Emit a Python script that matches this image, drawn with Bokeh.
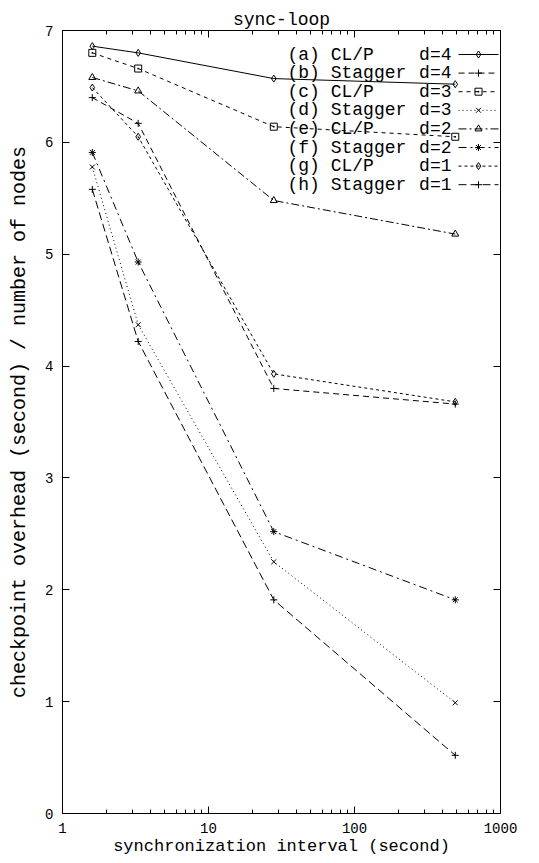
from bokeh.plotting import figure
from bokeh.models import Range1d, FixedTicker, LogAxis, LinearAxis
from bokeh.core.properties import value
from bokeh.embed import file_html
from bokeh.resources import INLINE

# ---- data ----
intervals = [1.6, 3.3, 28, 490]
clp_d4 = [6.86, 6.80, 6.57, 6.52]
stagger_d4 = [6.40, 6.17, 3.80, 3.66]
clp_d3 = [6.80, 6.66, 6.14, 6.05]
stagger_d3 = [5.78, 4.37, 2.25, 0.99]
clp_d2 = [6.58, 6.46, 5.48, 5.18]
stagger_d2 = [5.91, 4.93, 2.52, 1.91]
clp_d1 = [6.49, 6.05, 3.93, 3.68]
stagger_d1 = [5.58, 4.22, 1.91, 0.52]

series_tags = ["(a)", "(b)", "(c)", "(d)", "(e)", "(f)", "(g)", "(h)"]
series_names = ["CL/P", "Stagger", "CL/P", "Stagger", "CL/P", "Stagger", "CL/P", "Stagger"]
series_degrees = ["d=4", "d=4", "d=3", "d=3", "d=2", "d=2", "d=1", "d=1"]
series_values = [clp_d4, stagger_d4, clp_d3, stagger_d3, clp_d2, stagger_d2, clp_d1, stagger_d1]

x_ticks = [1, 10, 100, 1000]
x_tick_labels = ["1", "10", "100", "1000"]
x_minor = [m * d for d in (1, 10, 100) for m in range(2, 10)]
y_ticks = [0, 1, 2, 3, 4, 5, 6, 7]

# ---- styles ----
dashes = ["solid", "6 4", "4 4", "1 3", "8 3 2 3", "8 4 2 4", "3 3", "8 4"]
markers = ["diamond", "cross", "square_dot", "x", "triangle", "asterisk", "diamond", "cross"]
msizes = [7, 7, 7, 7, 7, 7, 7, 7]

FONT = "Liberation Mono"

# frame on the page (the page itself has no margin)
FL, FT, FR, FB = 62, 30, 500, 813
W, H = 539, 863

p = figure(width=W, height=H, x_axis_type="log",
           x_range=Range1d(1, 1000), y_range=Range1d(0, 7),
           output_backend="svg", toolbar_location=None,
           min_border_left=FL, min_border_right=W - FR,
           min_border_top=FT, min_border_bottom=H - FB,
           title="sync-loop")
p.title.align = "center"
p.title.text_font = FONT
p.title.text_font_size = "18px"
p.title.text_font_style = "normal"
p.title.text_color = "black"
p.title.standoff = 2
p.title.offset = 0

p.xgrid.visible = False
p.ygrid.visible = False
p.outline_line_color = "black"
p.outline_line_width = 1
p.background_fill_color = "white"
p.border_fill_color = "white"

xt = FixedTicker(ticks=x_ticks, minor_ticks=x_minor)
yt = FixedTicker(ticks=y_ticks, minor_ticks=[])

xa = p.xaxis[0]
xa.ticker = xt
xa.major_label_overrides = {t: l for t, l in zip(x_ticks, x_tick_labels)}
ya = p.yaxis[0]
ya.ticker = yt

for ax in (xa, ya):
    ax.axis_line_color = "black"
    ax.major_tick_in = 7
    ax.major_tick_out = 0
    ax.minor_tick_in = 4
    ax.minor_tick_out = 0
    ax.major_tick_line_color = "black"
    ax.minor_tick_line_color = "black"
    ax.major_label_text_font = FONT
    ax.major_label_text_font_size = "14px"
    ax.major_label_text_color = "black"
    ax.axis_label_text_font = FONT
    ax.axis_label_text_font_style = "normal"
    ax.axis_label_text_color = "black"

xa.axis_label = "synchronization interval (second)"
xa.axis_label_text_font_size = "17px"
xa.major_label_standoff = 9
xa.axis_label_standoff = 1
ya.axis_label = "checkpoint overhead (second) / number of nodes"
ya.axis_label_text_font_size = "20px"
ya.major_label_standoff = 9
ya.axis_label_standoff = 11

# mirrored ticks on top and right (labels hidden)
top = LogAxis(ticker=xt, major_tick_in=7, major_tick_out=0, minor_tick_in=4,
              minor_tick_out=0, major_label_text_font_size="2px",
              major_label_text_alpha=0, major_label_standoff=0,
              axis_line_color="black")
right = LinearAxis(ticker=yt, major_tick_in=7, major_tick_out=0, minor_tick_in=0,
                   minor_tick_out=0, major_label_text_font_size="2px",
                   major_label_text_alpha=0, major_label_standoff=0,
                   axis_line_color="black")
p.add_layout(top, "above")
p.add_layout(right, "right")

# ---- series ----
for vals, dash, mk, ms in zip(series_values, dashes, markers, msizes):
    p.line(intervals, vals, line_color="black", line_width=1, line_dash=dash)
    p.scatter(intervals, vals, marker=mk, size=ms, line_color="black",
              fill_color=None, line_width=1)

# ---- key (text on the left, sample on the right, as in gnuplot) ----
FW, FH = FR - FL, FB - FT


def xd(px):
    return 10 ** (3 * (px - FL) / FW)


def yd(py):
    return 7 * (1 - (py - FT) / FH)


rows = [yd(54 + i * 18.6) for i in range(len(series_tags))]
p.text(x=[xd(287)] * len(rows), y=rows,
       text=[f"{t} {n}" for t, n in zip(series_tags, series_names)],
       text_font=value(FONT), text_font_size="18px", text_color="black",
       text_align="left", text_baseline="middle")
p.text(x=[xd(451)] * len(rows), y=rows, text=series_degrees,
       text_font=value(FONT), text_font_size="18px", text_color="black",
       text_align="right", text_baseline="middle")
for yv, dash, mk, ms in zip(rows, dashes, markers, msizes):
    p.line([xd(458), xd(498)], [yv, yv], line_color="black", line_width=1,
           line_dash=dash)
    p.scatter([xd(478)], [yv], marker=mk, size=ms, line_color="black",
              fill_color=None, line_width=1)

open("out.html", "w").write(file_html(p, INLINE))
